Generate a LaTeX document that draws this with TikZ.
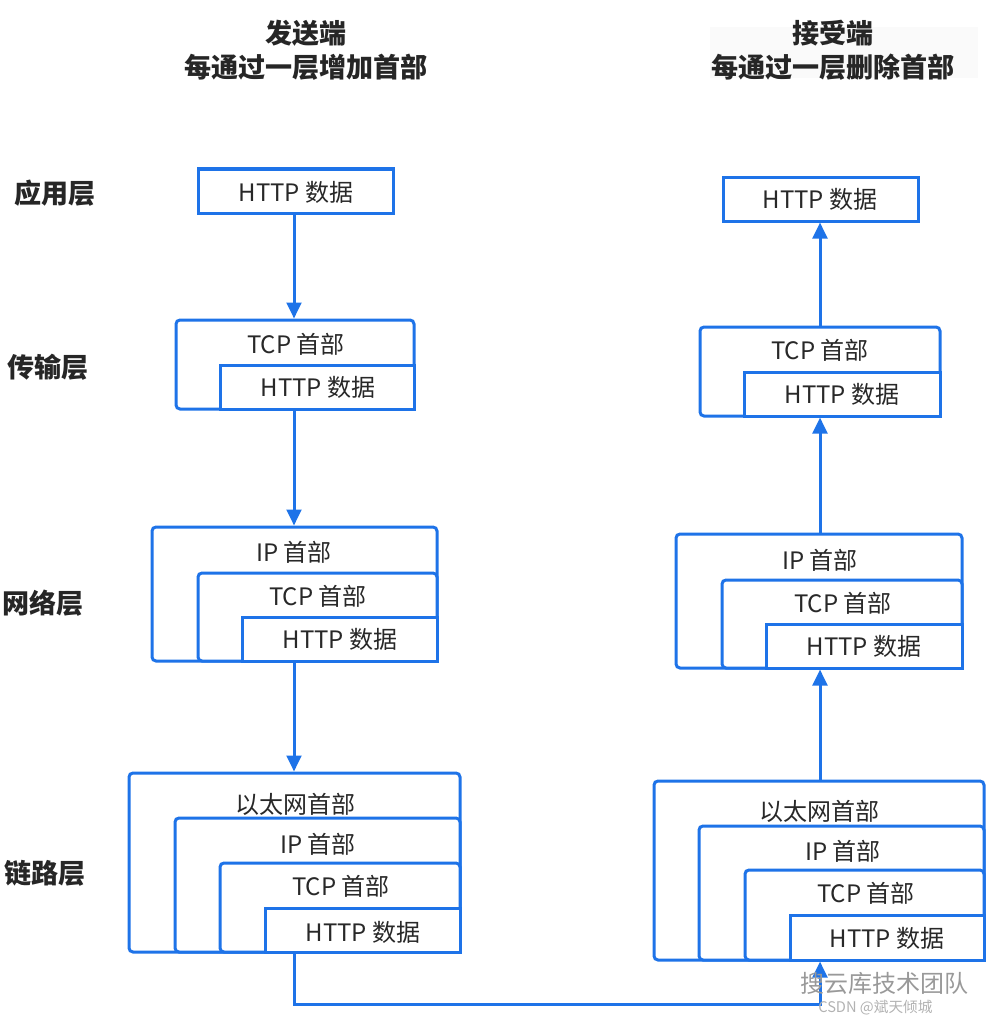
\documentclass[tikz,border=0pt]{standalone}
\usepackage{fontspec}
\setmainfont{Noto Sans CJK SC}
\usetikzlibrary{arrows.meta,fit}
\definecolor{bl}{RGB}{30,115,232}
\definecolor{tx}{RGB}{40,40,40}
\tikzset{
 box/.style={draw=bl, line width=2.25pt, fill=white, rounded corners=3pt, inner sep=0pt},
 sbox/.style={box, sharp corners},
 lbl/.style={text=tx, font=\fontsize{18}{21}\selectfont, inner sep=0pt},
 ttl/.style={text=black!85, font=\fontsize{20.3}{24}\selectfont\bfseries, inner sep=0pt},
 lay/.style={ttl, anchor=west},
 arr/.style={draw=bl, line width=2.25pt, -{Triangle[width=11pt,length=12pt]}},
 wm/.style={text=black!40, inner sep=0pt},
}
\begin{document}
\begin{tikzpicture}[x=0.75pt,y=-0.75pt]
\useasboundingbox (0,0) rectangle (1007,1027);
\fill[black!2] (710,27) rectangle (978,78);
% titles
\node[ttl] (t1) at (306,33) {发送端};
\node[ttl] (t2) at (306,67) {每通过一层增加首部};
\node[ttl] (t3) at (833,33) {接受端};
\node[ttl] (t4) at (833,67) {每通过一层删除首部};
% layer labels
\node[lay] (l1) at (14,193) {应用层};
\node[lay] (l2) at (7,367) {传输层};
\node[lay] (l3) at (2,603) {网络层};
\node[lay] (l4) at (4,873) {链路层};
% ---------- left ----------
\node[sbox, fit={(198,169)(393,213)}] (LaH) {};
\node[lbl] (LaHt) at (296,192) {HTTP 数据};

\node[box, fit={(176,320)(414,409)}] (LtO) {};
\node[sbox, fit={(220,365)(414,409)}] (LtH) {};
\node[lbl] (LtOt) at (296,344) {TCP 首部};
\node[lbl] (LtHt) at (318,387) {HTTP 数据};

\node[box, fit={(152,527)(437,661)}] (LnO) {};
\node[box, fit={(198,573)(437,661)}] (LnT) {};
\node[sbox, fit={(242,617)(437,661)}] (LnH) {};
\node[lbl] (LnOt) at (294,552) {IP 首部};
\node[lbl] (LnTt) at (318,596) {TCP 首部};
\node[lbl] (LnHt) at (340,639) {HTTP 数据};

\node[box, fit={(129,773)(460,952)}] (LlO) {};
\node[box, fit={(175,818)(460,952)}] (LlI) {};
\node[box, fit={(220,863)(460,952)}] (LlT) {};
\node[sbox, fit={(265,908)(460,952)}] (LlH) {};
\node[lbl] (LlOt) at (295,804) {以太网首部};
\node[lbl] (LlIt) at (318,844) {IP 首部};
\node[lbl] (LlTt) at (341,886) {TCP 首部};
\node[lbl] (LlHt) at (363,932) {HTTP 数据};

% ---------- right ----------
\node[sbox, fit={(723,177)(918,221)}] (RaH) {};
\node[lbl] (RaHt) at (820,199) {HTTP 数据};

\node[box, fit={(700,327)(940,416)}] (RtO) {};
\node[sbox, fit={(744,372)(940,416)}] (RtH) {};
\node[lbl] (RtOt) at (820,350) {TCP 首部};
\node[lbl] (RtHt) at (842,394) {HTTP 数据};

\node[box, fit={(676,534)(962,668)}] (RnO) {};
\node[box, fit={(722,580)(962,668)}] (RnT) {};
\node[sbox, fit={(766,624)(962,668)}] (RnH) {};
\node[lbl] (RnOt) at (820,560) {IP 首部};
\node[lbl] (RnTt) at (843,603) {TCP 首部};
\node[lbl] (RnHt) at (864,646) {HTTP 数据};

\node[box, fit={(654,781)(984,960)}] (RlO) {};
\node[box, fit={(699,826)(984,960)}] (RlI) {};
\node[box, fit={(745,870)(984,960)}] (RlT) {};
\node[sbox, fit={(790,915)(984,960)}] (RlH) {};
\node[lbl] (RlOt) at (819,811) {以太网首部};
\node[lbl] (RlIt) at (843,851) {IP 首部};
\node[lbl] (RlTt) at (866,893) {TCP 首部};
\node[lbl] (RlHt) at (887,938) {HTTP 数据};

% ---------- connectors ----------
\coordinate (la) at (294,0);
\coordinate (ra) at (820,0);
\draw[arr] (la |- LaH.south) -- (la |- LtO.north);
\draw[arr] (la |- LtO.south) -- (la |- LnO.north);
\draw[arr] (la |- LnO.south) -- (la |- LlO.north);
\coordinate (bl) at (294,1004);
\coordinate (br) at (820,1004);
\draw[arr] (la |- LlO.south) -- (bl) -- (br) -- (ra |- RlO.south);
\draw[arr] (ra |- RlO.north) -- (ra |- RnO.south);
\draw[arr] (ra |- RnO.north) -- (ra |- RtO.south);
\draw[arr] (ra |- RtO.north) -- (ra |- RaH.south);

% watermark
\node[wm, font=\fontsize{18}{21}\selectfont, anchor=west] (w1) at (800,983) {搜云库技术团队};
\node[wm, text=black!30, font=\fontsize{11}{13}\selectfont, anchor=west] (w2) at (818,1008) {CSDN @斌天倾城};
\end{tikzpicture}
\end{document}
